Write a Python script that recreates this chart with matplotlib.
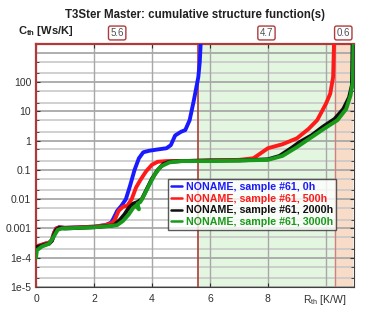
import numpy as np
import matplotlib
matplotlib.use('Agg')
import matplotlib.pyplot as plt
from matplotlib.ticker import FixedLocator, FixedFormatter, NullFormatter
import matplotlib.transforms as mtransforms

plt.rcParams['font.family'] = ['Liberation Sans', 'DejaVu Sans']

# ---------------- data ----------------
x_0h = [0.0, 0.02, 0.15, 0.3, 0.45, 0.55, 0.62, 0.7, 0.8, 1.0, 1.5, 2.0, 2.4, 2.6, 2.7,
        2.8, 2.95, 3.1, 3.25, 3.4, 3.55, 3.7, 3.9, 4.2, 4.5, 4.65, 4.8, 5.0, 5.15, 5.3,
        5.45, 5.6, 5.65, 5.68]
y_0h = [2.0e-4, 2.4e-4, 2.6e-4, 3.0e-4, 3.2e-4, 4e-4, 7e-4, 1.0e-3, 1.1e-3, 1.05e-3, 1.1e-3,
        1.15e-3, 1.3e-3, 1.6e-3, 2.5e-3, 4e-3, 6e-3, 0.01, 0.03, 0.1, 0.25, 0.4, 0.45, 0.5,
        0.55, 0.7, 1.5, 2.0, 2.3, 5, 25, 150, 500, 2000]

x_500h = [0.0, 0.02, 0.15, 0.3, 0.45, 0.55, 0.62, 0.7, 0.8, 1.0, 1.5, 2.0, 2.4, 2.6, 2.7,
          2.85, 3.0, 3.15, 3.3, 3.45, 3.6, 3.8, 4.0, 4.2, 4.5, 5.0, 6.0, 7.0, 7.5, 7.8,
          8.0, 8.5, 9.0, 9.4, 9.7, 10.0, 10.15, 10.25, 10.28]
y_500h = [2.2e-4, 2.5e-4, 2.7e-4, 3.0e-4, 3.3e-4, 4e-4, 7e-4, 1.0e-3, 1.1e-3, 1.05e-3, 1.1e-3,
          1.15e-3, 1.3e-3, 1.5e-3, 1.8e-3, 4e-3, 5.5e-3, 6e-3, 0.01, 0.025, 0.045, 0.09, 0.15,
          0.19, 0.2, 0.2, 0.21, 0.22, 0.25, 0.4, 0.55, 0.75, 1.2, 2.5, 5, 18, 40, 150, 2000]

x_2000h = [0.0, 0.02, 0.15, 0.3, 0.45, 0.55, 0.62, 0.7, 0.8, 1.0, 1.5, 2.0, 2.4, 2.6, 2.7,
           2.9, 3.05, 3.2, 3.35, 3.5, 3.65, 3.8, 4.0, 4.2, 4.4, 4.6, 5.0, 6.0, 7.0, 8.0,
           8.4, 8.8, 9.1, 9.5, 9.9, 10.3, 10.6, 10.8, 10.9, 10.92]
y_2000h = [2.0e-4, 2.3e-4, 2.5e-4, 2.8e-4, 3.0e-4, 3.8e-4, 6e-4, 9e-4, 1.05e-3, 1.0e-3, 1.05e-3,
           1.1e-3, 1.2e-3, 1.25e-3, 1.3e-3, 2e-3, 3e-3, 5e-3, 7e-3, 8e-3, 0.01, 0.02, 0.05,
           0.1, 0.16, 0.19, 0.2, 0.21, 0.21, 0.23, 0.3, 0.55, 0.9, 1.5, 3, 5.5, 12, 30, 80, 2000]

x_3000h = [0.0, 0.03, 0.2, 0.45, 0.6, 0.75, 0.9, 1.5, 2.0, 2.5, 2.8, 3.0, 3.2, 3.35, 3.45,
           3.55, 3.5, 3.6, 3.75, 3.9, 4.1, 4.3, 4.6, 5.0, 6.0, 7.0, 8.0, 8.5, 9.0, 9.5, 10.0,
           10.4, 10.7, 10.85, 10.93, 10.95]
y_3000h = [1.0e-4, 1.8e-4, 2.4e-4, 3.0e-4, 5e-4, 9e-4, 1.0e-3, 1.05e-3, 1.1e-3, 1.2e-3, 1.3e-3,
           1.8e-3, 3e-3, 5e-3, 6e-3, 4.5e-3, 7e-3, 8e-3, 0.015, 0.03, 0.07, 0.13, 0.18, 0.2,
           0.2, 0.21, 0.22, 0.3, 0.6, 1.3, 2.8, 5, 12, 35, 100, 2000]

labels = ['NONAME, sample #61, 0h', 'NONAME, sample #61, 500h',
          'NONAME, sample #61, 2000h', 'NONAME, sample #61, 3000h']
colors = ['#1a1aff', '#ff1a1a', '#101010', '#1a9a1a']

# region borders and widths
borders = [0.0, 5.6, 10.3, 10.9]
widths = ['5.6', '4.7', '0.6']

yticks = [1e-5, 1e-4, 1e-3, 1e-2, 1e-1, 1, 10, 100]
yticklabels = ['1e-5', '1e-4', '0.001', '0.01', '0.1', '1', '10', '100']
xticks = [0, 2, 4, 6, 8]
xticklabels = ['0', '2', '4', '6', '8']

brown = '#b03a3a'

fig = plt.figure(figsize=(3.85, 3.16), dpi=100)
ax = fig.add_axes([36/385, 1-287/316, (354-36)/385, (287-44)/316])

ax.set_yscale('log')
ax.set_xlim(0, 10.97)
ax.set_ylim(1e-5, 2000)

# shading
ax.axvspan(borders[1], borders[2], color='#e3f6e0', zorder=0)
ax.axvspan(borders[2], borders[3], color='#f8dcc8', zorder=0)

# grid
minors = []
for d in range(-5, 4):
    for m in (2, 5):
        minors.append(m * 10.0**d)
for v in minors:
    ax.axhline(v, color='#c8c8c8', lw=1.2, zorder=1)
for v in yticks + [1000]:
    ax.axhline(v, color='#a8a8a8', lw=1.3, zorder=1)
for v in [2, 4, 6, 8, 10]:
    ax.axvline(v, color='#a8a8a8', lw=1.0, zorder=1)

ax.axvline(borders[1], color=brown, lw=1.2, zorder=2)
ax.axvline(borders[2], color='#d08080', lw=1.0, zorder=2)

for xs, ys, c, lab in zip([x_0h, x_500h, x_2000h, x_3000h],
                          [y_0h, y_500h, y_2000h, y_3000h], colors, labels):
    ax.plot(xs, ys, color=c, lw=2.8, label=lab, zorder=5,
            solid_joinstyle='round', solid_capstyle='round')

ax.yaxis.set_major_locator(FixedLocator(yticks))
ax.yaxis.set_major_formatter(FixedFormatter(yticklabels))
ax.yaxis.set_minor_locator(FixedLocator(minors))
ax.yaxis.set_minor_formatter(NullFormatter())
ax.set_xticks(xticks)
ax.set_xticklabels(xticklabels)
ax.tick_params(axis='both', which='both', direction='in', labelsize=7.5,
               colors='#303030', right=True, top=True, length=3)
ax.tick_params(axis='y', which='minor', length=2)
ax.tick_params(axis='x', pad=5)

for side in ['left', 'top']:
    ax.spines[side].set_color(brown)
    ax.spines[side].set_linewidth(1.6)
ax.spines['right'].set_color('#404040')
ax.spines['bottom'].set_color('#404040')

# region labels
trans = mtransforms.blended_transform_factory(ax.transData, fig.transFigure)
for i, w in enumerate(widths):
    xc = (borders[i] + borders[i + 1]) / 2
    ax.text(xc, 1 - 33/316, w, transform=trans, ha='center', va='center',
            fontsize=7, color='#505050',
            bbox=dict(boxstyle='round,pad=0.2', fc='white', ec=brown, lw=1.0))

leg = ax.legend(loc='upper left', bbox_to_anchor=(0.415, 0.445), fontsize=7.7,
                frameon=True, fancybox=False, handlelength=1.0, handletextpad=0.4,
                borderpad=0.3, labelspacing=0.15, borderaxespad=0)
leg.get_frame().set_edgecolor('#303030')
leg.get_frame().set_linewidth(1.0)
for t, c in zip(leg.get_texts(), colors):
    t.set_color(c)
    t.set_fontweight('bold')
for h in leg.get_lines():
    h.set_linewidth(1.8)

fig.text(195/385, 1 - 15/316, 'T3Ster Master: cumulative structure function(s)',
         ha='center', va='center', fontsize=8.3, fontweight='bold', color='#202020')
fig.text(18/385, 1 - 31/316, r'C$_{\mathregular{th}}$ [Ws/K]', ha='left', va='center',
         fontsize=8, fontweight='bold', color='#202020')
fig.text(303/385, 1 - 300/316, r'R$_{\mathregular{th}}$ [K/W]', ha='left', va='center',
         fontsize=7.5, color='#303030')

fig.savefig('out.png', dpi=100)
